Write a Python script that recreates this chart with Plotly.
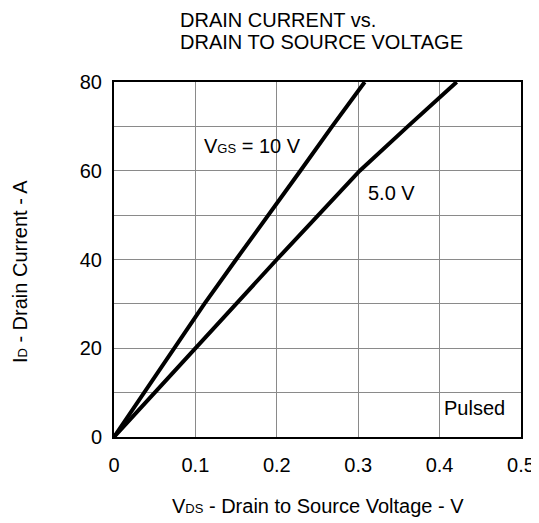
import plotly.graph_objects as go

# Data
id_a = [0, 10, 20, 30, 40, 50, 60, 70, 80]
vds_vgs10 = [0, 0.037, 0.074, 0.111, 0.150, 0.190, 0.229, 0.268, 0.308]
vds_vgs5 = [0, 0.050, 0.099, 0.149, 0.200, 0.251, 0.302, 0.361, 0.421]

x_ticks = [0, 0.1, 0.2, 0.3, 0.4, 0.5]
x_ticktext = ["0", "0.1", "0.2", "0.3", "0.4", "0.5"]
y_ticks = [0, 20, 40, 60, 80]
y_ticktext = ["0", "20", "40", "60", "80"]

FONT = "Liberation Sans, Arial, sans-serif"
FS = 20
SUB = 13

OFF = 8  # page body margin in the browser
W, H = 539 - OFF, 523 - OFF
# target plot area in screenshot pixels: x 114..521.5, y 82.5..437
L, T = 114 - OFF, 82 - OFF
R = W - (521.5 - OFF)
B = H - (437 - OFF)
PW, PH = W - L - R, H - T - B


def px_x(p):
    """screenshot x pixel -> paper fraction"""
    return (p - OFF - L) / PW


def px_y(p):
    """screenshot y pixel -> paper fraction"""
    return (H - B - (p - OFF)) / PH


fig = go.Figure()
fig.add_trace(go.Scatter(x=vds_vgs10, y=id_a, mode="lines",
                         line=dict(color="black", width=4), showlegend=False))
fig.add_trace(go.Scatter(x=vds_vgs5, y=id_a, mode="lines",
                         line=dict(color="black", width=4), showlegend=False))

txt = dict(family=FONT, size=FS, color="black")
fig.add_annotation(x=0.1076, y=65.5, xref="x", yref="y", xanchor="left", yanchor="middle",
                   text=f"V<span style='font-size:{SUB}px'>GS</span> = 10 V", showarrow=False, font=txt)
fig.add_annotation(x=0.31, y=55, xref="x", yref="y", xanchor="left", yanchor="middle",
                   text="5.0 V", showarrow=False, font=txt)
fig.add_annotation(x=0.4834, y=6.5, xref="x", yref="y", xanchor="right", yanchor="middle",
                   text="Pulsed", showarrow=False, font=txt)

# Title lines
fig.add_annotation(x=px_x(178), y=px_y(20), xref="paper", yref="paper",
                   xanchor="left", yanchor="middle", text="DRAIN CURRENT vs.",
                   showarrow=False, font=txt)
fig.add_annotation(x=px_x(178), y=px_y(42), xref="paper", yref="paper",
                   xanchor="left", yanchor="middle", text="DRAIN TO SOURCE VOLTAGE",
                   showarrow=False, font=txt)

# Axis titles
fig.add_annotation(x=0.5, y=px_y(506), xref="paper", yref="paper",
                   xanchor="center", yanchor="middle",
                   text=f"V<span style='font-size:{SUB}px'>DS</span> - Drain to Source Voltage - V",
                   showarrow=False, font=txt)
fig.add_annotation(x=px_x(20), y=px_y(272), xref="paper", yref="paper",
                   xanchor="center", yanchor="middle", textangle=-90,
                   text=f"I<span style='font-size:{SUB}px'>D</span> - Drain Current - A",
                   showarrow=False, font=txt)

fig.update_layout(
    width=W, height=H,
    margin=dict(l=L, r=R, t=T, b=B, autoexpand=False),
    paper_bgcolor="white", plot_bgcolor="white",
    font=txt,
    xaxis=dict(range=[0, 0.5], tickvals=x_ticks, ticktext=x_ticktext,
               showgrid=True, gridcolor="#8a8a8a", gridwidth=1,
               showline=True, mirror=True, linecolor="black", linewidth=2,
               ticks="outside", ticklen=9, tickcolor="rgba(0,0,0,0)",
               zeroline=False, automargin=False),
    yaxis=dict(range=[0, 80], tickvals=y_ticks, ticktext=y_ticktext,
               showgrid=True, gridcolor="#8a8a8a", gridwidth=1,
               minor=dict(dtick=10, showgrid=True, gridcolor="#8a8a8a", gridwidth=1),
               showline=True, mirror=True, linecolor="black", linewidth=2,
               ticks="outside", ticklen=6, tickcolor="rgba(0,0,0,0)",
               zeroline=False, automargin=False),
)

fig.write_html("out.html")
